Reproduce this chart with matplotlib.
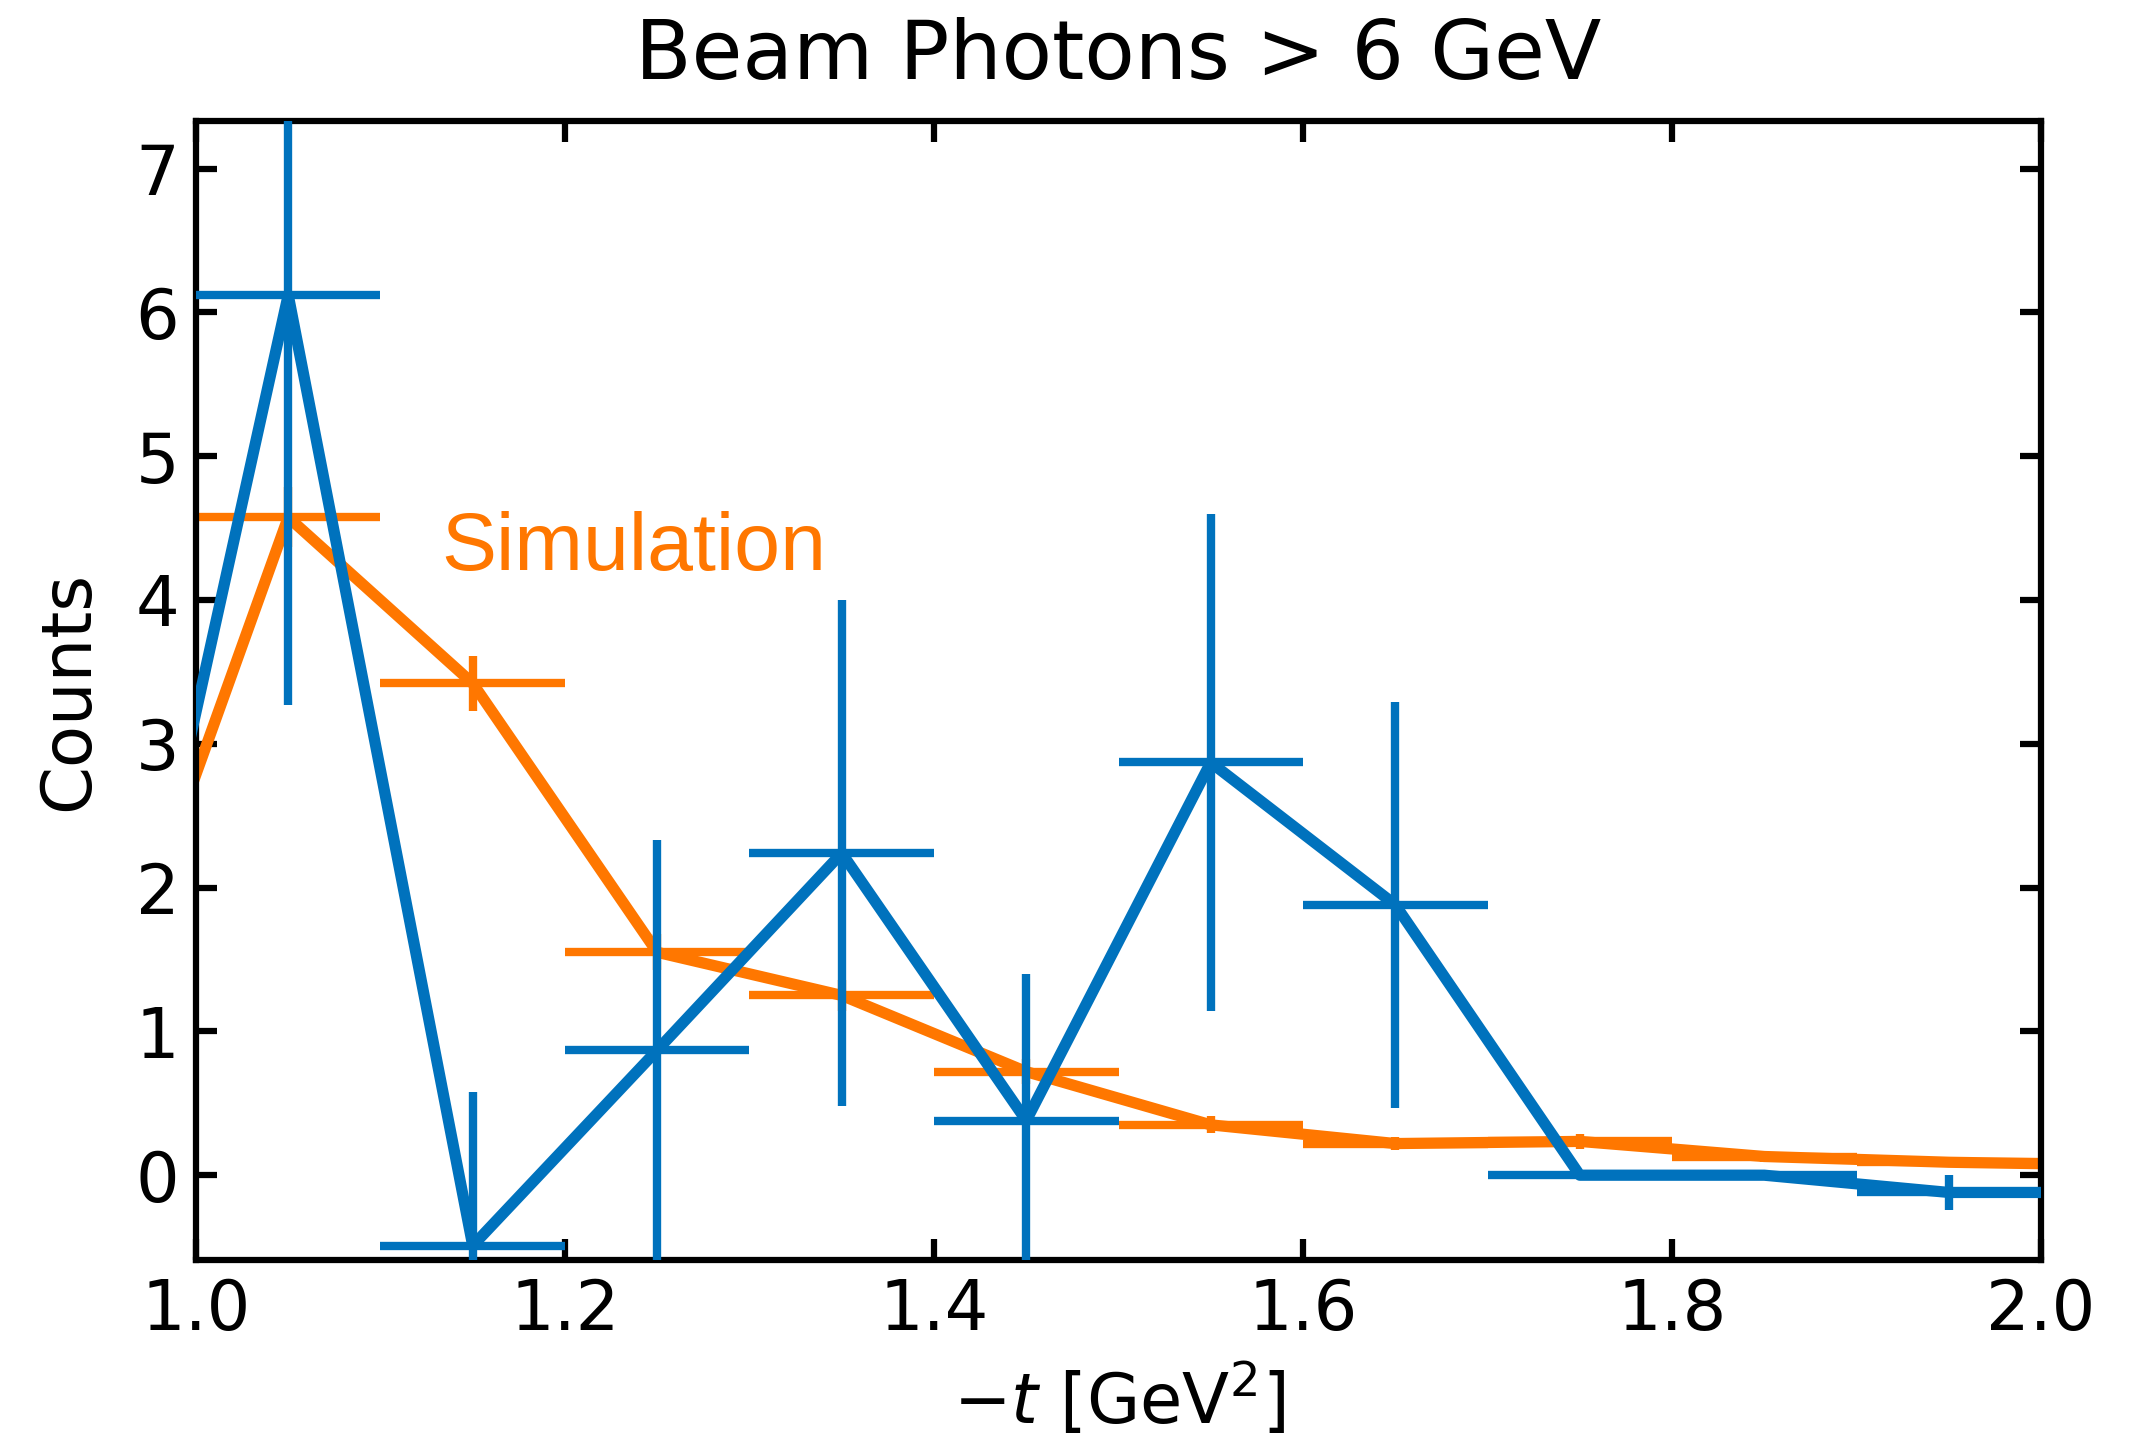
import matplotlib
matplotlib.use("Agg")
import matplotlib.pyplot as plt
import numpy as np

# bin centres in -t [GeV^2], 0.1 wide bins (first and last lie outside the shown range)
t_centers = [0.95, 1.05, 1.15, 1.25, 1.35, 1.45, 1.55, 1.65, 1.75, 1.85, 1.95, 2.05]
t_halfwidth = 0.05

# background-subtracted data counts
data_counts = [0.32, 6.12, -0.49, 0.87, 2.24, 0.38, 2.87, 1.88, 0.0, 0.0, -0.12, -0.12]
data_err = [0.6, 2.85, 1.07, 1.46, 1.76, 1.02, 1.73, 1.41, 0.0, 0.0, 0.12, 0.12]

# scaled simulation
sim_counts = [1.0, 4.575, 3.42, 1.55, 1.25, 0.72, 0.35, 0.22, 0.235, 0.13, 0.09, 0.07]
sim_err = [0.1, 0.21, 0.19, 0.125, 0.11, 0.085, 0.06, 0.047, 0.05, 0.036, 0.03, 0.03]

BLUE = "#0072BD"
ORANGE = "#FF7700"

plt.rcParams["font.family"] = "DejaVu Sans"
plt.rcParams["font.size"] = 16.5
plt.rcParams["mathtext.fontset"] = "dejavusans"

fig = plt.figure(figsize=(2151 / 300, 1448 / 300), dpi=300)
ax = fig.add_axes([0.0911, 0.1298, 0.8578, 0.7866])

# connecting line a bit heavier than the bin bars
ax.errorbar(t_centers, sim_counts, xerr=t_halfwidth, yerr=sim_err,
            color=ORANGE, lw=2.7, elinewidth=2, capsize=0, zorder=2)
ax.errorbar(t_centers, data_counts, xerr=t_halfwidth, yerr=data_err,
            color=BLUE, lw=2.7, elinewidth=2, capsize=0, zorder=3)

ax.text(1.133, 4.21, "Simulation", color=ORANGE, fontsize=19.8,
        family="Liberation Sans", ha="left", va="baseline")

ax.set_xlim(1.0, 2.0)
ax.set_ylim(-0.59, 7.33)
ax.set_xticks(np.arange(1.0, 2.01, 0.2))
ax.set_yticks(range(0, 8))

ax.set_title("Beam Photons > 6 GeV", fontsize=19.8, pad=10)
ax.set_xlabel(r"$-t$ [GeV$^2$]", labelpad=4)
ax.set_ylabel("Counts", labelpad=8)

ax.tick_params(direction="in", top=True, right=True, length=5, width=1.5, pad=4)
for sp in ax.spines.values():
    sp.set_linewidth(1.5)

fig.savefig("out.png", dpi=300)
